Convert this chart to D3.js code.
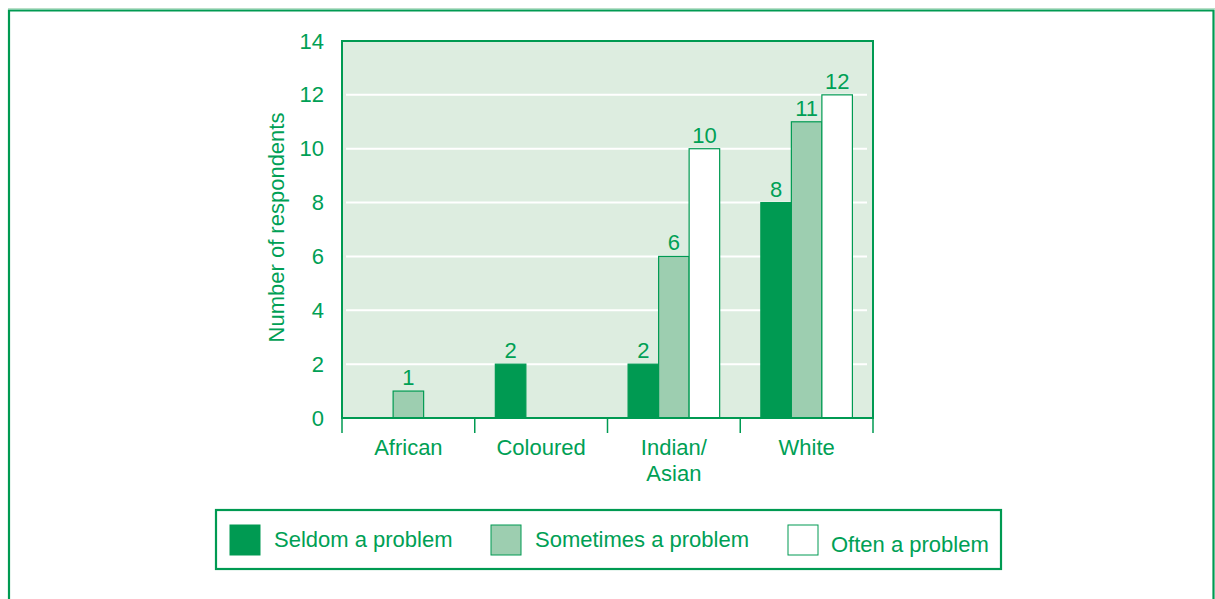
<!DOCTYPE html>
<html>
<head>
<meta charset="utf-8">
<script src="https://cdn.jsdelivr.net/npm/d3@7"></script>
<style>
  html, body { margin: 0; padding: 0; background: #ffffff; }
  svg { display: block; font-family: "Liberation Sans", Arial, Helvetica, sans-serif; }
</style>
</head>
<body>
<svg id="chart" width="1215" height="599"></svg>
<script>
// Respondents by population group and how often the issue is a problem
const categories = ["African", "Coloured", "Indian/\nAsian", "White"];
const seriesNames = ["Seldom a problem", "Sometimes a problem", "Often a problem"];
const seldom    = [null, 2, 2, 8];
const sometimes = [1, null, 6, 11];
const often     = [null, null, 10, 12];
const yTicks = [0, 2, 4, 6, 8, 10, 12, 14];

const green = "#009a52";
const textGreen = "#00a055";
const fills = ["#009a52", "#9dceb0", "#ffffff"];
const series = [seldom, sometimes, often];
const fontSize = 22;

const svg = d3.select("#chart");

// outer frame
svg.append("line").attr("x1", 8).attr("x2", 1215).attr("y1", 8.5).attr("y2", 8.5)
  .attr("stroke", "#b9dfc7").attr("stroke-width", 1);
svg.append("path")
  .attr("d", "M9,600 V10.5 H1213.5 V600")
  .attr("fill", "none").attr("stroke", green).attr("stroke-width", 2.2);

const plotLeft = 342, plotRight = 873, plotTop = 41, plotBottom = 418;

const x = d3.scaleBand().domain(categories).range([plotLeft, plotRight]).padding(0);
const xs = d3.scaleBand().domain(d3.range(3)).range([0, x.bandwidth()]).paddingOuter(0.675).paddingInner(0);
const y = d3.scaleLinear().domain([0, 14]).range([plotBottom, plotTop]);

// plot background
svg.append("rect").attr("x", plotLeft).attr("y", plotTop)
  .attr("width", plotRight - plotLeft).attr("height", plotBottom - plotTop)
  .attr("fill", "#ddede0");

// gridlines
svg.append("g").selectAll("line").data(yTicks.filter(t => t > 0 && t < 14)).join("line")
  .attr("x1", plotLeft + 4).attr("x2", plotRight - 6)
  .attr("y1", d => y(d)).attr("y2", d => y(d))
  .attr("stroke", "#ffffff").attr("stroke-width", 2);

// bars with value labels
categories.forEach((c, ci) => {
  series.forEach((s, si) => {
    const v = s[ci];
    if (v == null) return;
    const bx = x(c) + xs(si);
    svg.append("rect")
      .attr("x", bx).attr("y", y(v))
      .attr("width", xs.bandwidth()).attr("height", y(0) - y(v))
      .attr("fill", fills[si]).attr("stroke", green).attr("stroke-width", 1.2);
    svg.append("text")
      .attr("x", bx + xs.bandwidth() / 2).attr("y", y(v) - 6)
      .attr("text-anchor", "middle").attr("font-size", fontSize).attr("fill", textGreen)
      .text(v);
  });
});

// plot frame
svg.append("rect").attr("x", plotLeft).attr("y", plotTop)
  .attr("width", plotRight - plotLeft).attr("height", plotBottom - plotTop)
  .attr("fill", "none").attr("stroke", green).attr("stroke-width", 2);

// y axis labels
const yAxis = d3.axisLeft(y).tickValues(yTicks).tickSize(0).tickPadding(18);
const gy = svg.append("g").attr("transform", `translate(${plotLeft},0)`).call(yAxis);
gy.select(".domain").remove();
gy.selectAll("text").attr("font-size", fontSize).attr("fill", textGreen)
  .attr("font-family", "Liberation Sans, Arial, sans-serif");

svg.append("text")
  .attr("transform", `translate(284,${(plotTop + plotBottom) / 2 - 2}) rotate(-90)`)
  .attr("text-anchor", "middle").attr("font-size", fontSize).attr("fill", textGreen)
  .text("Number of respondents");

// x axis ticks at category boundaries
const bounds = categories.map(c => x(c)).concat([plotRight]);
svg.append("g").selectAll("line").data(bounds).join("line")
  .attr("x1", d => d).attr("x2", d => d).attr("y1", plotBottom).attr("y2", plotBottom + 15)
  .attr("stroke", green).attr("stroke-width", 1.5);

// x category labels
categories.forEach(c => {
  const lines = c.split("\n");
  const cx = x(c) + x.bandwidth() / 2;
  const t = svg.append("text")
    .attr("x", cx).attr("y", 455)
    .attr("text-anchor", "middle").attr("font-size", fontSize).attr("fill", textGreen);
  lines.forEach((ln, i) => {
    t.append("tspan").attr("x", cx).attr("dy", i === 0 ? 0 : 26).text(ln);
  });
});

// legend
svg.append("rect").attr("x", 216).attr("y", 510).attr("width", 785).attr("height", 59)
  .attr("fill", "#ffffff").attr("stroke", green).attr("stroke-width", 2.2);
const legendX = [230, 491, 788];
const legendTextX = [274, 535, 831];
const legendTextY = [547, 547, 552];
seriesNames.forEach((n, i) => {
  svg.append("rect").attr("x", legendX[i]).attr("y", 525).attr("width", 30).attr("height", 30)
    .attr("fill", fills[i]).attr("stroke", green).attr("stroke-width", 1);
  svg.append("text").attr("x", legendTextX[i]).attr("y", legendTextY[i])
    .attr("font-size", fontSize).attr("fill", textGreen).text(n);
});
</script>
</body>
</html>
